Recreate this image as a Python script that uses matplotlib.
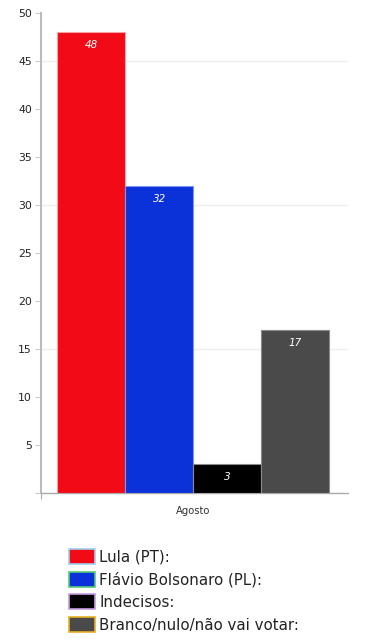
import matplotlib.pyplot as plt
from matplotlib.patches import Patch

plt.rcParams['font.family'] = ['DejaVu Sans']

# dados
categorias = ['Lula (PT):', 'Flávio Bolsonaro (PL):', 'Indecisos:', 'Branco/nulo/não vai votar:']
valores = [48, 32, 3, 17]
mes = 'Agosto'
cores = ['#f20a16', '#0a32d8', '#000000', '#4a4a4a']
bordas = ['#f7a0a5', '#7d95f0', '#8a8a8a', '#8a8a8a']
bordas_legenda = ['#9fd0ee', '#55cc77', '#c59ce0', '#e8b020']
y_ticks = list(range(0, 55, 5))
grid_niveis = [15, 30, 45]

fig = plt.figure(figsize=(3.8, 6.4), dpi=100)
ax = fig.add_axes([41 / 380, 1 - 493 / 640, 307 / 380, 480 / 640])

x = list(range(len(valores)))
barras = ax.bar(x, valores, width=1.0, color=cores, edgecolor=bordas, linewidth=0.8, zorder=3)
ax.bar_label(barras, labels=[str(v) for v in valores], padding=-13,
             color='white', fontsize=7.5, fontstyle='italic', zorder=4)

for g in grid_niveis:
    ax.axhline(g, color='#eeeeee', linewidth=1, zorder=1)

ax.set_xlim(-0.74, 3.78)
ax.set_ylim(0, 50)
ax.set_yticks(y_ticks)
ax.set_yticklabels([str(t) if t > 0 else '' for t in y_ticks])
ax.tick_params(axis='y', length=4, width=0.8, color='#cccccc', labelcolor='#222222',
               labelsize=7.8, pad=2.5)

ax.set_xticks([1.5])
ax.set_xticklabels([mes])
ax.tick_params(axis='x', length=0, labelsize=7.2, labelcolor='#333333', pad=9)
ax.set_xticks([-0.74], minor=True)
ax.tick_params(axis='x', which='minor', length=4, width=0.8, color='#aaaaaa', direction='out')

for s in ['top', 'right']:
    ax.spines[s].set_visible(False)
ax.spines['left'].set_color('#bbbbbb')
ax.spines['left'].set_linewidth(1.5)
ax.spines['bottom'].set_color('#aaaaaa')
ax.spines['bottom'].set_linewidth(1)

handles = [Patch(facecolor=c, edgecolor=e, linewidth=1.2) for c, e in zip(cores, bordas_legenda)]
fig.legend(handles, categorias, loc='upper left', bbox_to_anchor=(69 / 380, 1 - 549 / 640),
           frameon=False, fontsize=10.8, handlelength=1.7, handleheight=1.15,
           handletextpad=0.32, labelspacing=0.48, borderpad=0, borderaxespad=0,
           labelcolor='#222222')

fig.savefig('out.png', dpi=100)
